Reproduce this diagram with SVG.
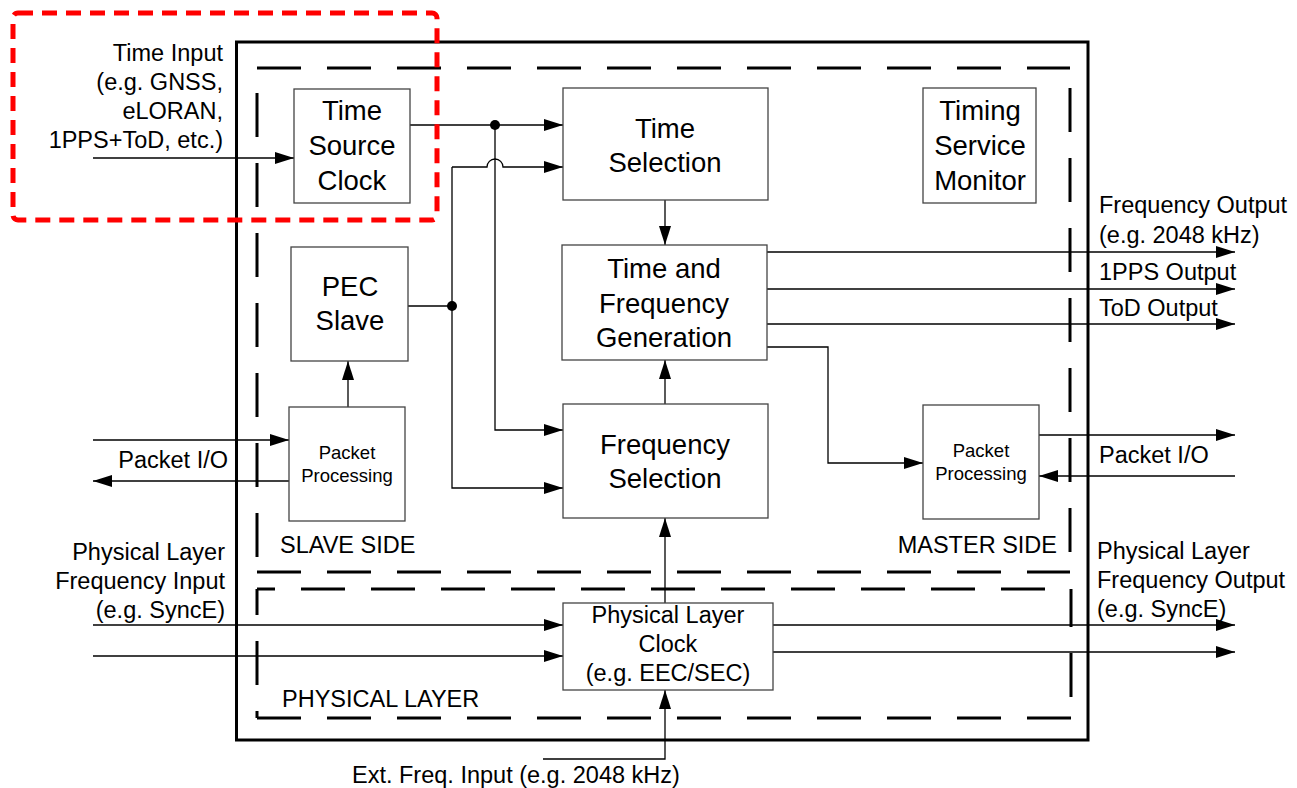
<svg xmlns="http://www.w3.org/2000/svg" width="1297" height="788" viewBox="0 0 1297 788">
  <defs>
    <marker id="arrow" markerUnits="userSpaceOnUse" markerWidth="20" markerHeight="14" refX="19" refY="6" orient="auto">
      <path d="M0,0 L19,6 L0,12 z" fill="#000"/>
    </marker>
    <style>
      text { font-family: "Liberation Sans", Arial, sans-serif; fill: #000; }
      .big { font-size: 27.5px; text-anchor: middle; }
      .mid { font-size: 23.5px; }
      .small { font-size: 18.5px; text-anchor: middle; }
      .c { text-anchor: middle; }
      .r { text-anchor: end; }
      .box { fill: #fff; stroke: #444; stroke-width: 1.3; }
      .wire { fill: none; stroke: #000; stroke-width: 1.3; marker-end: url(#arrow); }
      .plain { fill: none; stroke: #000; stroke-width: 1.3; }
      .frame { fill: none; stroke: #000; stroke-width: 3; }
      .zone { fill: none; stroke: #000; stroke-width: 3; stroke-dasharray: 44 26; }
      .dot { fill: #000; }
    </style>
  </defs>

  <rect width="1297" height="788" fill="#fff"/>

  <!-- equipment frame and zones -->
  <g id="frame">
    <rect class="frame" x="236.5" y="42" width="851.5" height="698"/>
    <!-- slave / master zone -->
    <line class="zone" x1="257" y1="68" x2="1070" y2="68"/>
    <line class="zone" x1="257" y1="68" x2="257" y2="572" stroke-dashoffset="45"/>
    <line class="zone" x1="1070" y1="68" x2="1070" y2="572" stroke-dashoffset="50"/>
    <line class="zone" x1="257" y1="572" x2="1070" y2="572"/>
    <!-- physical layer zone -->
    <line class="zone" x1="257" y1="589" x2="1071" y2="589" stroke-dashoffset="26"/>
    <line class="zone" x1="257" y1="589" x2="257" y2="718" stroke-dashoffset="18"/>
    <line class="zone" x1="1071" y1="589" x2="1071" y2="718" stroke-dashoffset="6"/>
    <line class="zone" x1="257" y1="718" x2="1071" y2="718"/>
    <text class="mid" x="280" y="553">SLAVE SIDE</text>
    <text class="mid r" x="1057" y="553">MASTER SIDE</text>
    <text class="mid" x="282" y="707">PHYSICAL LAYER</text>
  </g>

  <!-- connectors -->
  <g id="connectors">
    <path class="wire" d="M93,158 H294"/>
    <path class="wire" d="M410,125 H563"/>
    <path class="wire" d="M495,125 V430 H563"/>
    <path class="plain" d="M408,306 H452"/>
    <path class="wire" d="M452,167 H487 A8,8 0 0 1 503,167 H563"/>
    <path class="wire" d="M452,167 V488 H563"/>
    <circle class="dot" cx="495" cy="125" r="5"/>
    <circle class="dot" cx="452" cy="306" r="5"/>
    <path class="wire" d="M665,200 V245"/>
    <path class="wire" d="M665,404 V360"/>
    <path class="wire" d="M665,603 V518"/>
    <path class="wire" d="M348,407 V361"/>
    <path class="wire" d="M767,252 H1235"/>
    <path class="wire" d="M767,289 H1235"/>
    <path class="wire" d="M767,324 H1235"/>
    <path class="wire" d="M767,347 H828 V463 H923"/>
    <path class="wire" d="M1039,435 H1235"/>
    <path class="wire" d="M1235,476 H1039"/>
    <path class="wire" d="M93,440 H289"/>
    <path class="wire" d="M289,481 H93"/>
    <path class="wire" d="M93,625 H563"/>
    <path class="wire" d="M93,656 H563"/>
    <path class="wire" d="M773,625 H1235"/>
    <path class="wire" d="M773,652 H1235"/>
    <path class="wire" d="M543,759 H665 V690"/>
  </g>

  <!-- nodes -->
  <g id="time-source-clock">
    <rect class="box" x="294" y="89" width="116" height="114"/>
    <text class="big" x="352" y="120">Time</text>
    <text class="big" x="352" y="155">Source</text>
    <text class="big" x="352" y="190">Clock</text>
  </g>
  <g id="time-selection">
    <rect class="box" x="563" y="88" width="205" height="112"/>
    <text class="big" x="665" y="138">Time</text>
    <text class="big" x="665" y="172">Selection</text>
  </g>
  <g id="timing-service-monitor">
    <rect class="box" x="923" y="88" width="113" height="115"/>
    <text class="big" x="980" y="120">Timing</text>
    <text class="big" x="980" y="155">Service</text>
    <text class="big" x="980" y="190">Monitor</text>
  </g>
  <g id="time-frequency-generation">
    <rect class="box" x="562" y="245" width="205" height="115"/>
    <text class="big" x="664" y="278">Time and</text>
    <text class="big" x="664" y="313">Frequency</text>
    <text class="big" x="664" y="347">Generation</text>
  </g>
  <g id="pec-slave">
    <rect class="box" x="291" y="247" width="117" height="114"/>
    <text class="big" x="350" y="296">PEC</text>
    <text class="big" x="350" y="330">Slave</text>
  </g>
  <g id="slave-packet-processing">
    <rect class="box" x="289" y="407" width="116" height="114"/>
    <text class="small" x="347" y="459">Packet</text>
    <text class="small" x="347" y="482">Processing</text>
  </g>
  <g id="frequency-selection">
    <rect class="box" x="563" y="404" width="205" height="114"/>
    <text class="big" x="665" y="454">Frequency</text>
    <text class="big" x="665" y="488">Selection</text>
  </g>
  <g id="master-packet-processing">
    <rect class="box" x="923" y="405" width="116" height="114"/>
    <text class="small" x="981" y="457">Packet</text>
    <text class="small" x="981" y="480">Processing</text>
  </g>
  <g id="physical-layer-clock">
    <rect class="box" x="563" y="603" width="210" height="87"/>
    <text class="mid c" x="668" y="623">Physical Layer</text>
    <text class="mid c" x="668" y="652">Clock</text>
    <text class="mid c" x="668" y="681">(e.g. EEC/SEC)</text>
  </g>

  <!-- external labels -->
  <g id="labels">
    <text class="mid r" x="223" y="61">Time Input</text>
    <text class="mid r" x="223" y="90">(e.g. GNSS,</text>
    <text class="mid r" x="223" y="119">eLORAN,</text>
    <text class="mid r" x="223" y="148">1PPS+ToD, etc.)</text>
    <text class="mid" x="1099" y="213">Frequency Output</text>
    <text class="mid" x="1099" y="243">(e.g. 2048 kHz)</text>
    <text class="mid" x="1099" y="280">1PPS Output</text>
    <text class="mid" x="1099" y="316">ToD Output</text>
    <text class="mid r" x="228" y="468">Packet I/O</text>
    <text class="mid" x="1099" y="463">Packet I/O</text>
    <text class="mid r" x="225" y="560">Physical Layer</text>
    <text class="mid r" x="225" y="589">Frequency Input</text>
    <text class="mid r" x="225" y="618">(e.g. SyncE)</text>
    <text class="mid" x="1097" y="559">Physical Layer</text>
    <text class="mid" x="1097" y="588">Frequency Output</text>
    <text class="mid" x="1097" y="617">(e.g. SyncE)</text>
    <text class="mid" x="352" y="783">Ext. Freq. Input (e.g. 2048 kHz)</text>
  </g>

  <!-- highlight around the time input section -->
  <rect id="highlight" x="13" y="13" width="424" height="207" rx="5" fill="none" stroke="#ff0000" stroke-width="5" stroke-dasharray="15 9"/>
</svg>
